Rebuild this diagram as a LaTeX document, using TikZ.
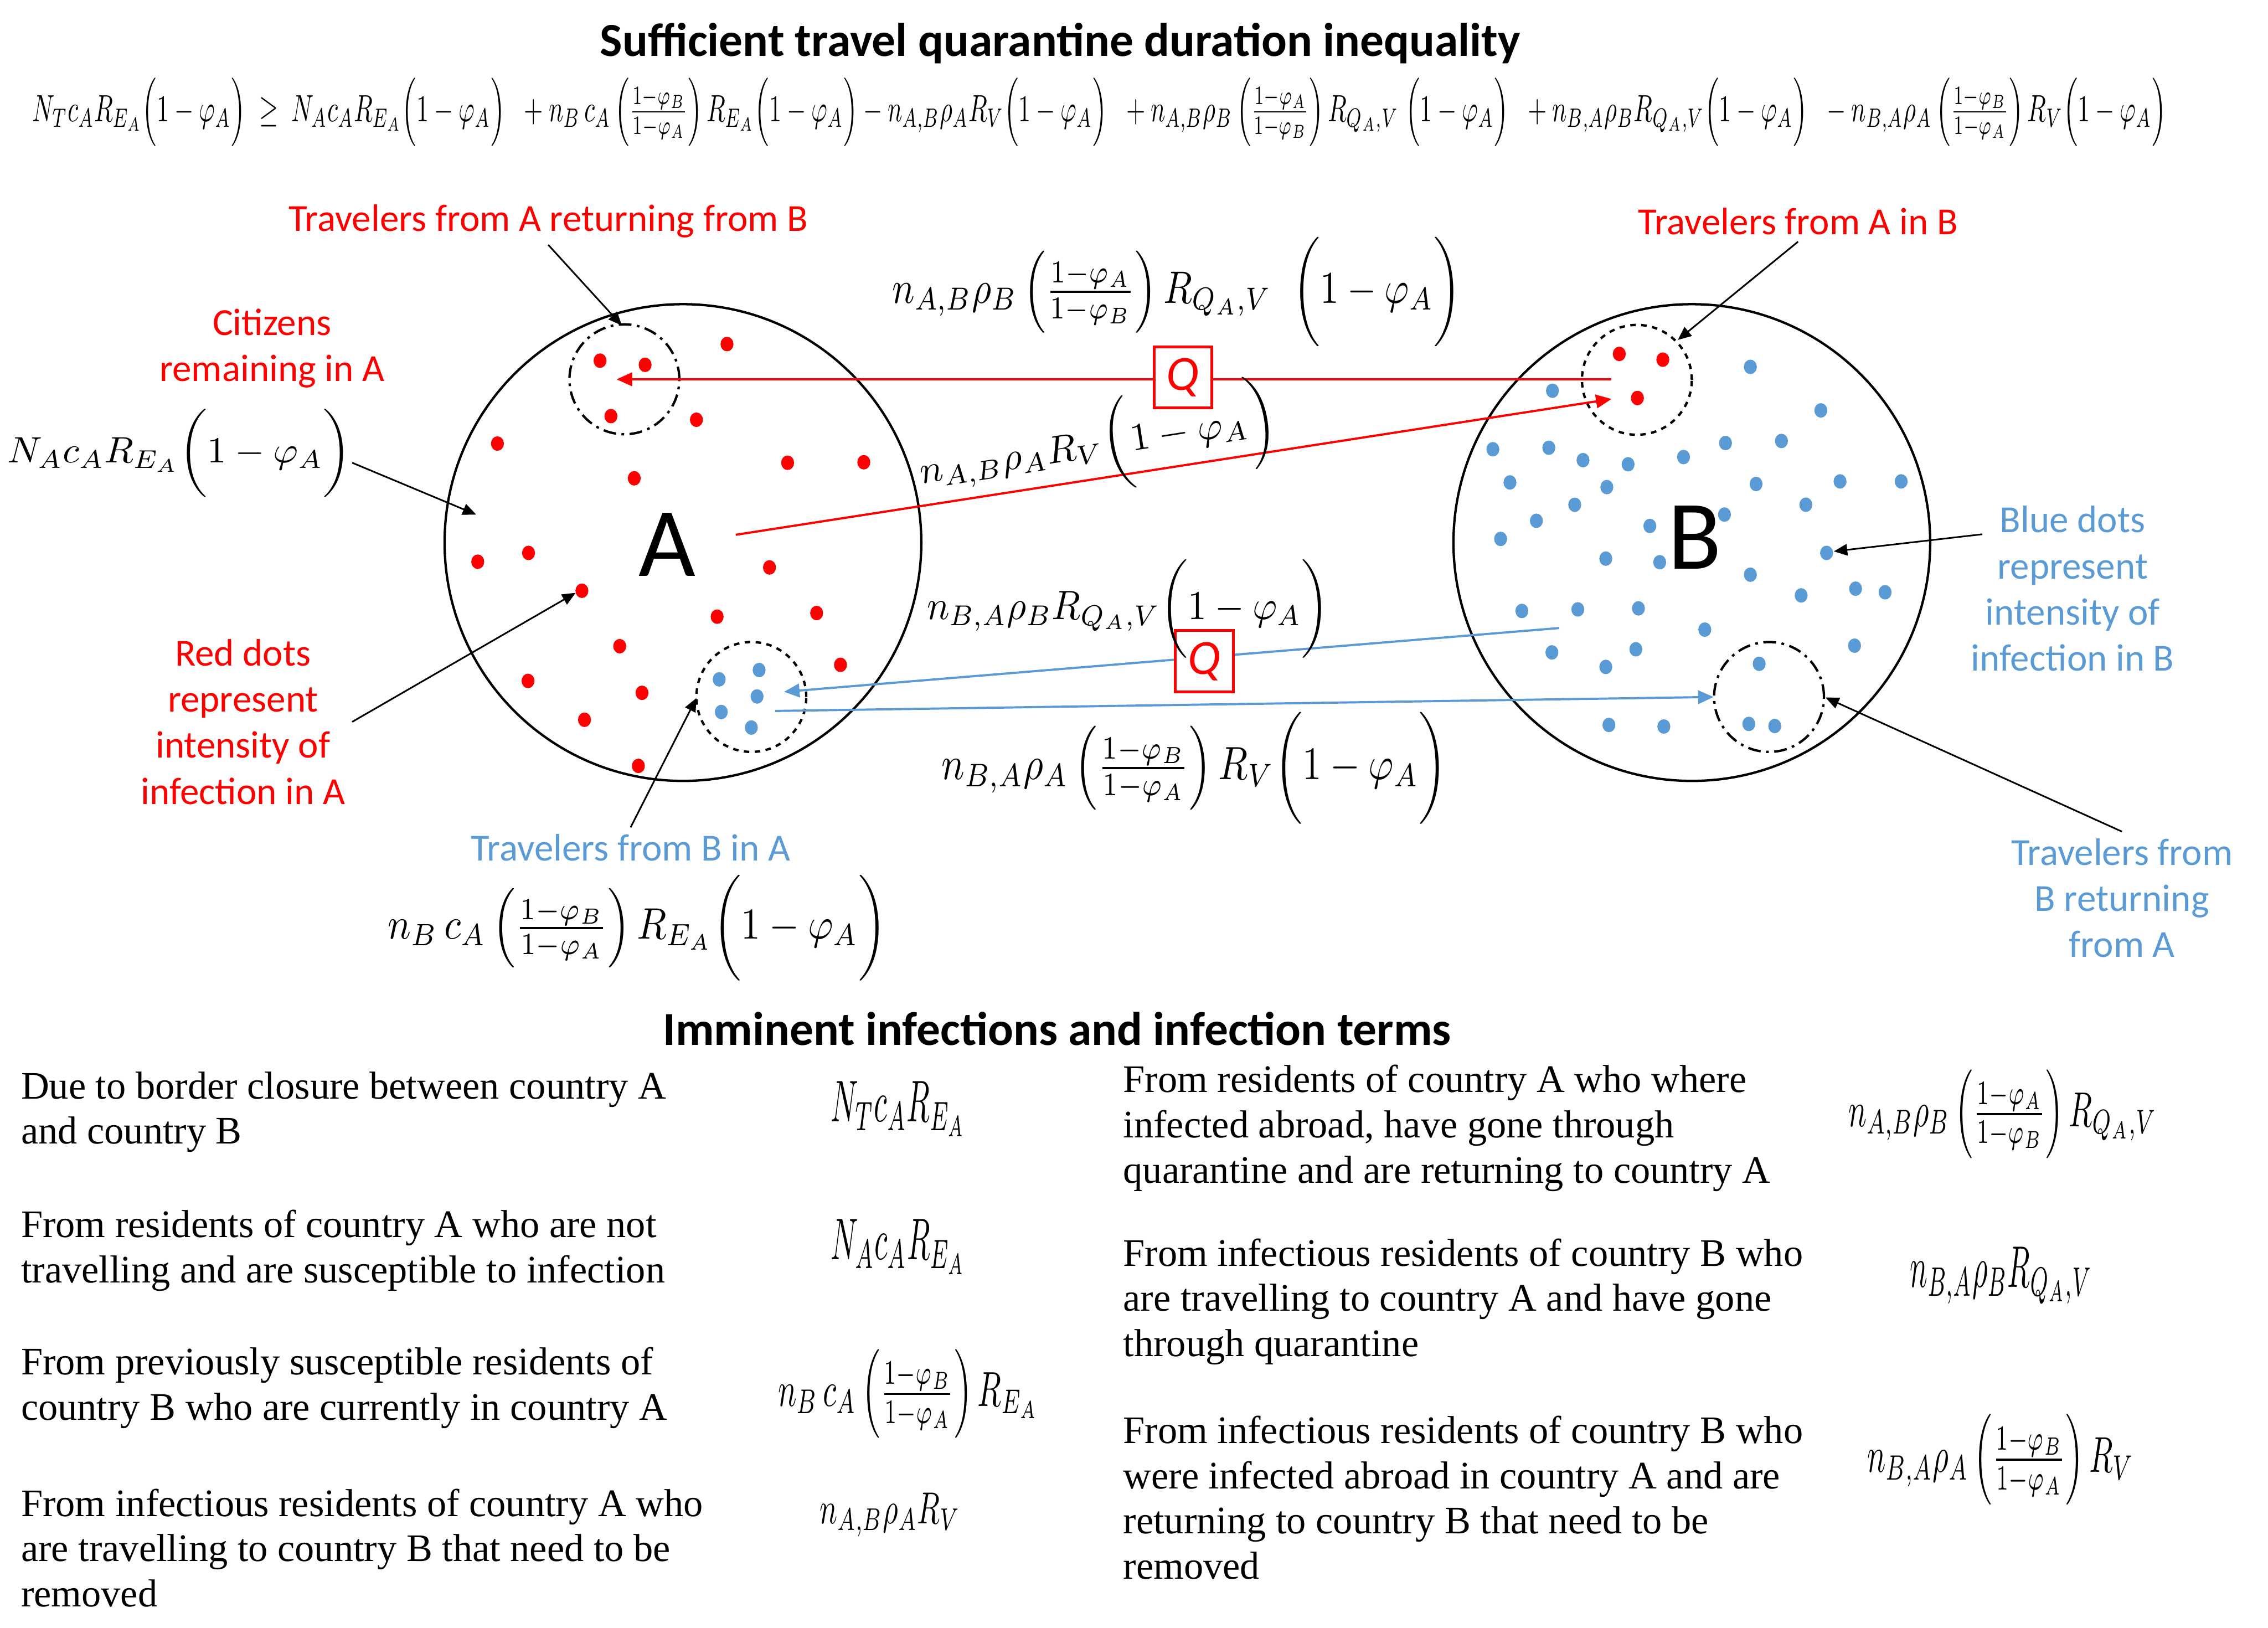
\documentclass[tikz,border=0pt]{standalone}
\usepackage{fontspec}
\setmainfont{Liberation Serif}
\newfontfamily\calib{Carlito}
\usepackage{amsmath}
\usetikzlibrary{arrows.meta}
\definecolor{infblue}{RGB}{91,155,213}
\newcommand{\fitmath}[3]{\resizebox*{#1}{#2}{$#3$}}
\newcommand{\omA}{\biggl(1-\varphi_A\biggr)}
\newcommand{\fBA}{\left(\frac{1-\varphi_B}{1-\varphi_A}\right)}
\newcommand{\fAB}{\left(\frac{1-\varphi_A}{1-\varphi_B}\right)}

\begin{document}
\begin{tikzpicture}[x=1cm,y=-1cm,line width=1pt,
  annot/.style={line width=0.9pt,-{Triangle[length=0.26cm,width=0.22cm]}},
  redarr/.style={red,line width=1.2pt,-{Triangle[length=0.3cm,width=0.26cm]}},
  bluearr/.style={infblue,line width=1.2pt,-{Triangle[length=0.3cm,width=0.26cm]}},
  country/.style={draw,circle,line width=1.3pt,minimum size=9.2cm},
  group/.style={draw,circle,line width=1.3pt,minimum size=2.12cm},
  dashdot/.style={dash pattern=on 7pt off 3pt on 1.5pt off 3pt},
  lbl/.style={font=\calib\fontsize{21}{25.3}\selectfont,align=center},
  desc/.style={anchor=west,align=left,inner sep=0pt,font=\fontsize{21.4}{24.8}\selectfont},
  fm/.style={inner sep=0pt},
  qbox/.style={draw=red,fill=white,line width=1.5pt,text=red,minimum width=1.12cm,
    minimum height=1.18cm,inner sep=0pt,font=\calib\itshape\fontsize{27}{30}\selectfont}]
\useasboundingbox (0,0) rectangle (43.77,31.41);
% titles
\node[font=\calib\bfseries\fontsize{26}{30}\selectfont] (title) at (20.46,0.84)
  {Sufficient travel quarantine duration inequality};
\node[fm] (fTop) at (21.22,2.16) {\fitmath{41.18cm}{1.32cm}{N_T c_A R_{E_A}\Bigl(1-\varphi_A\Bigr) \;\ge\; N_A c_A R_{E_A}\Bigl(1-\varphi_A\Bigr) \;\; + n_B\, c_A\fBA R_{E_A}\Bigl(1-\varphi_A\Bigr) - n_{A,B}\rho_A R_V\Bigl(1-\varphi_A\Bigr) \;\; + n_{A,B}\rho_B\fAB R_{Q_A,V}\;\Bigl(1-\varphi_A\Bigr) \;\; + n_{B,A}\rho_B R_{Q_A,V}\Bigl(1-\varphi_A\Bigr) \;\; - n_{B,A}\rho_A\fBA R_V\Bigl(1-\varphi_A\Bigr)}};

% countries
\node[country] (cA) at (13.18,10.47) {};
\node[country] (cB) at (32.65,10.47) {};
\node[font=\calib\fontsize{54}{60}\selectfont] (lA) at (12.87,10.51) {A};
\node[font=\calib\fontsize{54}{60}\selectfont] (lB) at (32.71,10.37) {B};

% infection dots
\foreach \p in {(11.58,6.96),(12.45,7.04),(14.03,6.64),(11.79,8.03),(13.44,8.10),
  (9.60,8.56),(12.24,9.23),(15.20,8.93),(16.67,8.92),(9.22,10.84),(10.20,10.67),
  (11.23,11.40),(14.85,10.95),(13.84,11.90),(15.76,11.83),(11.96,12.47),
  (16.22,12.83),(10.19,13.14),(12.39,13.37),(11.28,13.89),(12.32,14.78),
  (31.25,6.83),(32.09,6.94),(31.60,7.68)}
  \fill[red] \p ellipse (0.125 and 0.14);
\foreach \p in {(14.65,12.93),(13.88,13.11),(14.61,13.44),(13.92,13.74),(14.50,14.04),
  (33.78,7.08),(29.96,7.54),(35.14,7.92),(28.81,8.67),(29.89,8.64),(30.55,8.88),
  (31.42,8.96),(32.49,8.82),(33.30,8.55),(34.38,8.51),(29.14,9.31),(31.01,9.40),
  (33.89,9.34),(35.51,9.29),(36.69,9.29),(30.39,9.74),(33.28,9.93),(34.85,9.74),
  (29.65,10.05),(31.84,10.15),(28.96,10.40),(30.99,10.78),(32.03,10.85),
  (35.25,10.67),(33.78,11.09),(34.76,11.49),(35.81,11.36),(36.38,11.43),
  (29.37,11.79),(30.45,11.76),(31.62,11.74),(32.90,12.15),(29.95,12.59),
  (31.57,12.53),(30.99,12.87),(35.79,12.46),(33.95,12.81),(31.05,13.99),
  (32.11,14.02),(33.75,13.97),(34.25,14.01)}
  \fill[infblue] \p ellipse (0.125 and 0.14);

% travel groups
\node[group,dashdot] (gAret) at (12.05,7.32) {};
\node[group,dashed] (gBinA) at (14.50,13.45) {};
\node[group,dashed] (gAinB) at (31.59,7.33) {};
\node[group,dashdot] (gBret) at (34.14,13.45) {};

% flows between countries
\coordinate (rq1) at (31.10,7.32);
\coordinate (rq2) at (11.90,7.32);
\coordinate (ra1) at (14.20,10.32);
\coordinate (ra2) at (31.10,7.70);
\coordinate (bq1) at (30.09,12.12);
\coordinate (bq2) at (15.13,13.35);
\coordinate (ba1) at (14.96,13.72);
\coordinate (ba2) at (33.07,13.45);
\draw[redarr] (rq1) -- (rq2);
\draw[redarr] (ra1) -- (ra2);
\draw[bluearr] (bq1) -- (bq2);
\draw[bluearr] (ba1) -- (ba2);
\node[qbox] (qRed) at (22.83,7.28) {Q};
\node[qbox] (qBlue) at (23.24,12.76) {Q};

% flow terms
\node[fm] (fAB) at (22.71,5.63) {\fitmath{10.98cm}{2.11cm}{n_{A,B}\rho_B\fAB R_{Q_A,V}\;\;\omA}};
\node[fm,rotate=8.8] (fABr) at (21.19,8.62) {\fitmath{6.95cm}{1.8cm}{n_{A,B}\rho_A R_V\omA}};
\node[fm] (fBA) at (21.77,11.75) {\fitmath{7.76cm}{1.9cm}{n_{B,A}\rho_B R_{Q_A,V}\omA}};
\node[fm] (fBAr) at (23.05,14.82) {\fitmath{9.75cm}{2.16cm}{n_{B,A}\rho_A\fBA R_V\omA}};
\node[fm] (fB) at (12.30,17.91) {\fitmath{9.63cm}{2.04cm}{n_B\, c_A\fBA R_{E_A}\omA}};
\node[fm] (fNA) at (3.46,8.75) {\fitmath{6.64cm}{1.7cm}{N_A c_A R_{E_A}\omA}};

% labels
\node[lbl,text=red] (tRet) at (10.58,4.27) {Travelers from A returning from B};
\node[lbl,text=red] (tAinB) at (34.70,4.27) {Travelers from A in B};
\node[lbl,text=red] (tCit) at (5.25,6.72) {Citizens\\remaining in A};
\node[lbl,text=red] (tRed) at (4.69,13.93) {Red dots\\represent\\intensity of\\infection in A};
\node[lbl,text=infblue] (tBlue) at (40.00,11.36) {Blue dots\\represent\\intensity of\\infection in B};
\node[lbl,text=infblue] (tBinA) at (12.17,16.36) {Travelers from B in A};
\node[lbl,text=infblue] (tBret) at (40.95,17.33) {Travelers from\\B returning\\from A};

% pointers
\coordinate (pRet) at (12.00,6.28);
\coordinate (pAinB) at (32.38,6.56);
\coordinate (pNA) at (9.19,9.93);
\coordinate (pRed) at (11.11,11.44);
\coordinate (pBinA) at (13.44,13.47);
\coordinate (pBlue) at (35.39,10.64);
\coordinate (pBret) at (35.23,13.46);
\draw[annot] (tRet.south) -- (pRet);
\draw[annot] (tAinB.south) -- (pAinB);
\draw[annot] ([yshift=-0.18cm]fNA.east) -- (pNA);
\draw[annot] (tRed.east) -- (pRed);
\draw[annot] (tBinA.north) -- (pBinA);
\draw[annot] ([xshift=0.35cm,yshift=1.05cm]tBlue.west) -- (pBlue);
\draw[annot] (tBret.north) -- (pBret);

% terms table
\node[font=\calib\bfseries\fontsize{26}{30}\selectfont] (title2) at (20.40,19.85)
  {Imminent infections and infection terms};
\node[desc] (d1) at (0.39,21.46) {Due to border closure between country A\\and country B};
\node[desc] (d2) at (0.39,24.13) {From residents of country A who are not\\travelling and are susceptible to infection};
\node[desc] (d3) at (0.39,26.78) {From previously susceptible residents of\\country B who are currently in country A};
\node[desc] (d4) at (0.39,29.87) {From infectious residents of country A who\\are travelling to country B that need to be\\removed};
\node[desc] (d5) at (21.66,21.77) {From residents of country A who where\\infected abroad, have gone through\\quarantine and are returning to country A};
\node[desc] (d6) at (21.66,25.12) {From infectious residents of country B who\\are travelling to country A and have gone\\through quarantine};
\node[desc] (d7) at (21.66,28.90) {From infectious residents of country B who\\were infected abroad in country A and are\\returning to country B that need to be\\removed};
\node[fm] (e1) at (17.34,21.40) {\fitmath{2.61cm}{1.06cm}{N_T c_A R_{E_A}}};
\node[fm] (e2) at (17.34,24.06) {\fitmath{2.61cm}{1.06cm}{N_A c_A R_{E_A}}};
\node[fm] (e3) at (17.53,26.90) {\fitmath{5.03cm}{1.71cm}{n_B\, c_A\fBA R_{E_A}}};
\node[fm] (e4) at (17.18,29.23) {\fitmath{2.71cm}{0.84cm}{n_{A,B}\rho_A R_V}};
\node[fm] (e5) at (38.65,21.50) {\fitmath{5.95cm}{1.71cm}{n_{A,B}\rho_B\fAB R_{Q_A,V}}};
\node[fm] (e6) at (38.62,24.61) {\fitmath{3.52cm}{1.1cm}{n_{B,A}\rho_B R_{Q_A,V}}};
\node[fm] (e7) at (38.61,28.17) {\fitmath{5.15cm}{1.75cm}{n_{B,A}\rho_A\fBA R_V}};
\end{tikzpicture}
\end{document}
